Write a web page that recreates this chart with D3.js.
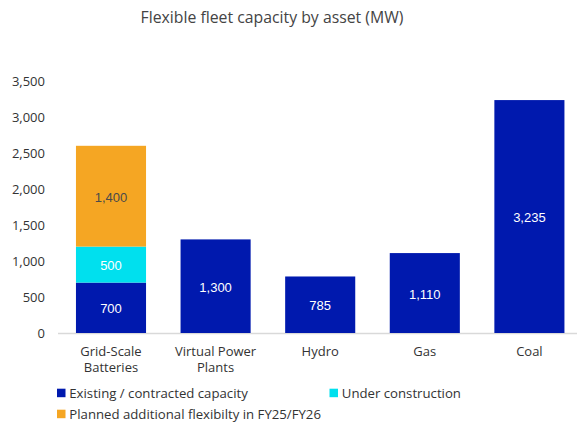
<!DOCTYPE html>
<html><head><meta charset="utf-8">
<script src="https://cdn.jsdelivr.net/npm/d3@7"></script>
<style>body{margin:0;background:#fff}svg{display:block}</style>
</head><body>
<script>
const categories = [["Grid-Scale","Batteries"],["Virtual Power","Plants"],["Hydro"],["Gas"],["Coal"]];
const existing = [700, 1300, 785, 1110, 3235];
const underConstruction = [500, 0, 0, 0, 0];
const planned = [1400, 0, 0, 0, 0];
const yTicks = [0,500,1000,1500,2000,2500,3000,3500];
const seriesNames = ["Existing / contracted capacity","Under construction","Planned additional flexibilty in FY25/FY26"];
const colors = ["#0019AE","#00E0EE","#F5A623"];
const labelColors = ["#ffffff","#ffffff","#4a4a4a"];

const W=577,H=423;
const svg=d3.select("body").append("svg").attr("width",W).attr("height",H);
const x=d3.scaleBand().domain(d3.range(categories.length)).range([58.7,581.7]).paddingInner(0.33).paddingOuter(0.165);
const y=d3.scaleLinear().domain([0,3500]).range([333,81]);

svg.append("text").attr("x",272).attr("y",23).attr("text-anchor","middle")
  .attr("font-family","Open Sans").attr("font-size",15.8).attr("fill","#444").text("Flexible fleet capacity by asset (MW)");

svg.append("g").selectAll("text").data(yTicks).join("text")
  .attr("x",45).attr("y",d=>y(d)).attr("dy","0.35em").attr("text-anchor","end")
  .attr("font-family","Open Sans").attr("font-size",13).attr("fill","#333")
  .text(d=>d3.format(",")(d));

svg.append("line").attr("x1",58).attr("x2",577).attr("y1",333.5).attr("y2",333.5).attr("stroke","#d9d9d9").attr("stroke-width",1.5);

const data = categories.map((c,i)=>({i, existing:existing[i], uc:underConstruction[i], planned:planned[i]}));
const stack=d3.stack().keys(["existing","uc","planned"])(data);
stack.forEach((s,k)=>{
  const g=svg.append("g");
  s.forEach((d,i)=>{
    const v=d[1]-d[0];
    if(v<=0) return;
    g.append("rect").attr("x",x(i)).attr("width",x.bandwidth())
      .attr("y",y(d[1])).attr("height",y(d[0])-y(d[1])).attr("fill",colors[k]);
    g.append("text").attr("x",x(i)+x.bandwidth()/2).attr("y",(y(d[0])+y(d[1]))/2+1)
      .attr("dy","0.35em").attr("text-anchor","middle")
      .attr("font-family","Liberation Sans, Arial").attr("font-size",13).attr("fill",labelColors[k])
      .text(d3.format(",")(v));
  });
});

categories.forEach((c,i)=>{
  const t=svg.append("text").attr("text-anchor","middle").attr("font-family","Open Sans").attr("font-size",13).attr("fill","#333");
  c.forEach((line,j)=>t.append("tspan").attr("x",x(i)+x.bandwidth()/2).attr("y",355.5+j*16.5).text(line));
});

const leg=[{x:57,y:393,k:0},{x:329.5,y:393,k:1},{x:57,y:414,k:2}];
leg.forEach(l=>{
  svg.append("rect").attr("x",l.x).attr("y",l.y-4.3).attr("width",8.5).attr("height",8.5).attr("fill",colors[l.k]);
  svg.append("text").attr("x",l.x+12.3).attr("y",l.y).attr("dy","0.35em").attr("font-family","Open Sans").attr("font-size",13.2).attr("fill","#333").text(seriesNames[l.k]);
});
</script>
</body></html>
